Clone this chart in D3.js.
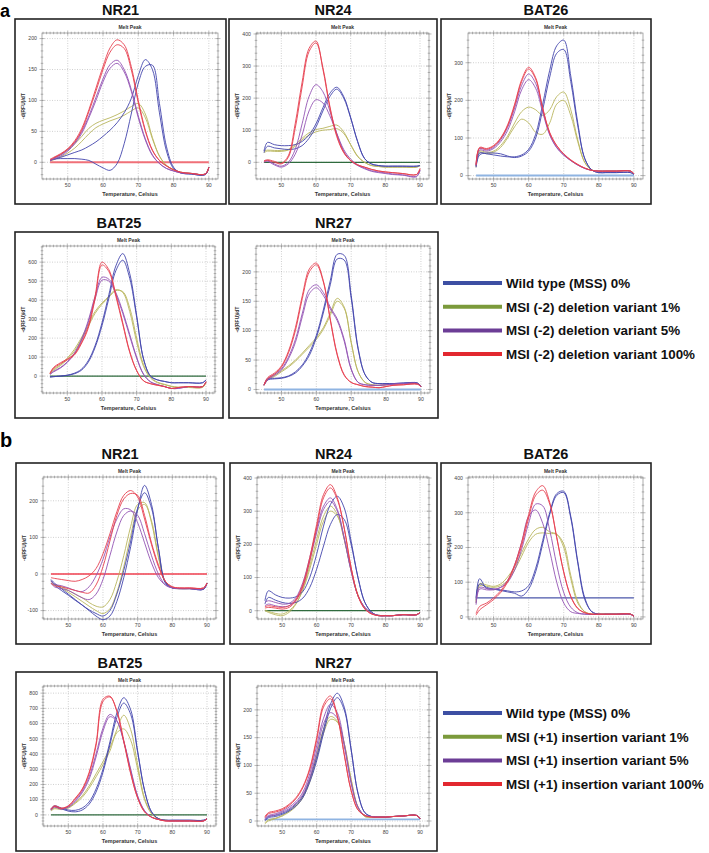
<!DOCTYPE html>
<html><head><meta charset="utf-8">
<script src="https://cdn.jsdelivr.net/npm/d3@7"></script>
<style>body{margin:0;background:#fff}svg{display:block;font-family:"Liberation Sans",Arial,sans-serif}</style>
</head><body><svg id="c" width="709" height="853"></svg>
<script>
const TEMPS = [45,46,48,50,52,54,56,58,60,62,64,66,68,70,72,74,76,78,80,82,85,89,90];
const X_TICKS = [50,60,70,80,90];
const SERIES_KEYS = ["wt","v1","v5","v100"];
const LEGEND_A = ["Wild type (MSS) 0%","MSI (-2) deletion variant 1%","MSI (-2) deletion variant 5%","MSI (-2) deletion variant 100%"];
const LEGEND_B = ["Wild type (MSS) 0%","MSI (+1) insertion variant 1%","MSI (+1) insertion variant 5%","MSI (+1) insertion variant 100%"];
const PANEL_TITLES_A = ["NR21","NR24","BAT26","BAT25","NR27"];
const PANEL_TITLES_B = ["NR21","NR24","BAT26","BAT25","NR27"];
const FLAT_A = [0,0,0,0,0];
const FLAT_B = [0,0,55,0,3];
const YTICKS_A = [[0,50,100,150,200],[0,100,200,300,400],[0,100,200,300],[0,100,200,300,400,500,600],[0,50,100,150,200]];
const YTICKS_B = [[-100,0,100,200],[0,100,200,300,400],[0,100,200,300,400],[0,100,200,300,400,500,600,700,800],[0,50,100,150,200]];
const YDOM_A = [[-27,209],[-52,403],[-9,379],[-89,685],[-6,244]];
const YDOM_B = [[-123,265],[-25,403],[-6,403],[-73,847],[-9,243]];

const A_NR21 = [
 ["wt",[3,5,8,12,16,20,26,33,42,52,64,80,103,140,166,150,80,18,-10,-17,-19,-20,-8]],
 ["wt",[3,5,6,6,6,5,3,-3,-9,-13,-2,30,78,128,155,157,95,25,-8,-17,-19,-20,-8]],
 ["v1",[3,6,12,20,30,42,55,63,68,72,77,83,90,95,78,40,10,-5,-12,-16,-18,-19,-8]],
 ["v1",[2,4,9,15,23,34,46,56,62,67,71,76,83,88,72,38,10,-5,-12,-16,-18,-19,-8]],
 ["v5",[3,6,12,20,32,50,75,105,135,158,165,150,118,75,38,12,-2,-10,-14,-17,-18,-19,-8]],
 ["v5",[2,5,10,18,30,47,72,100,130,152,160,146,115,72,36,11,-2,-10,-14,-17,-18,-19,-8]],
 ["v100",[5,8,14,22,35,55,85,120,155,185,198,190,155,100,52,20,3,-6,-12,-16,-18,-19,-8]],
 ["v100",[4,7,13,21,33,52,82,115,150,178,190,184,150,96,50,19,3,-6,-12,-16,-18,-19,-8]]
];
const A_NR24 = [
 ["wt",[35,62,55,52,52,55,65,85,120,170,215,234,205,140,65,12,-5,-10,-12,-12,-12,-12,-10]],
 ["wt",[30,50,45,42,40,42,52,75,110,160,205,228,200,138,65,12,-5,-10,-12,-12,-12,-12,-10]],
 ["v1",[35,38,37,37,40,55,75,92,102,106,112,116,95,55,18,0,-10,-13,-15,-15,-15,-15,-10]],
 ["v1",[30,35,34,34,38,50,70,85,95,100,102,105,90,55,20,0,-10,-13,-15,-15,-15,-15,-10]],
 ["v5",[3,5,-5,-12,0,40,120,205,242,220,160,90,35,5,-10,-20,-28,-32,-35,-38,-40,-45,-25]],
 ["v5",[0,3,-8,-15,-5,25,85,160,195,185,145,90,40,10,-8,-18,-26,-30,-33,-36,-39,-43,-25]],
 ["v100",[5,8,3,-3,20,120,250,355,378,290,170,80,30,5,-8,-15,-22,-27,-30,-32,-35,-38,-20]],
 ["v100",[3,6,0,-5,15,105,235,345,372,295,175,85,32,6,-8,-15,-22,-27,-30,-32,-35,-38,-20]]
];
const A_BAT26 = [
 ["wt",[25,60,58,55,52,50,50,55,70,110,190,280,345,360,265,140,45,15,8,8,8,8,3]],
 ["wt",[22,55,60,60,58,52,48,52,65,100,175,262,325,335,250,132,45,15,8,8,8,8,3]],
 ["v1",[25,65,62,65,80,105,140,170,182,175,160,175,210,222,175,95,35,15,12,12,12,12,5]],
 ["v1",[22,62,58,62,75,100,130,150,140,115,110,140,190,200,160,90,35,15,12,12,12,12,5]],
 ["v5",[28,72,68,75,95,128,180,240,270,245,175,110,75,55,40,28,19,14,12,12,12,12,5]],
 ["v5",[25,68,65,72,90,120,170,228,255,232,168,108,74,54,40,28,19,14,12,12,12,12,5]],
 ["v100",[30,75,72,80,100,135,190,255,288,260,180,115,80,58,42,30,20,14,12,12,12,12,5]],
 ["v100",[28,73,70,78,98,132,186,250,283,256,178,113,79,57,41,29,20,14,12,12,12,12,5]]
];
const A_BAT25 = [
 ["wt",[-5,-3,0,5,15,35,80,160,280,430,580,645,540,320,90,0,-20,-28,-35,-35,-35,-35,-20]],
 ["wt",[-5,-3,0,4,12,30,72,150,265,410,555,610,515,310,88,0,-20,-28,-35,-35,-35,-35,-20]],
 ["v1",[15,35,60,95,140,200,270,340,385,420,455,440,340,180,50,-10,-35,-45,-55,-60,-60,-60,-35]],
 ["v1",[12,30,55,88,130,190,260,330,378,415,450,445,360,200,60,-5,-32,-43,-53,-58,-58,-58,-35]],
 ["v5",[10,25,45,75,120,190,290,420,520,510,440,340,220,100,10,-30,-45,-55,-65,-65,-55,-55,-30]],
 ["v5",[8,22,42,72,115,182,280,405,505,500,430,330,210,95,8,-30,-45,-55,-65,-65,-55,-55,-30]],
 ["v100",[15,45,70,90,115,175,260,420,600,560,430,280,130,30,-25,-40,-48,-55,-65,-60,-55,-55,-30]],
 ["v100",[12,40,65,85,110,168,250,405,585,550,420,272,125,28,-25,-40,-48,-55,-65,-60,-55,-55,-30]]
];
const A_NR27 = [
 ["wt",[8,18,19,20,23,30,42,62,92,135,185,230,228,160,70,25,12,10,10,10,11,11,5]],
 ["wt",[7,16,18,19,22,28,40,58,88,130,178,222,220,155,68,25,12,10,10,10,11,11,5]],
 ["v1",[8,18,24,32,40,50,62,75,88,105,130,155,140,80,30,12,8,7,8,9,10,10,5]],
 ["v1",[7,16,22,30,38,48,60,72,85,102,126,150,138,80,30,12,8,7,8,9,10,10,5]],
 ["v5",[8,18,26,35,55,85,130,170,178,165,140,120,85,35,12,8,7,7,8,9,10,10,5]],
 ["v5",[7,16,24,33,52,80,124,163,173,160,137,117,82,34,12,8,7,7,8,9,10,10,5]],
 ["v100",[8,20,28,40,65,105,160,205,215,185,120,60,25,12,8,5,4,3,5,7,8,9,5]],
 ["v100",[7,18,26,38,62,100,155,200,212,183,118,58,24,12,8,5,4,3,5,7,8,9,5]]
];
const B_NR21 = [
 ["wt",[-15,-25,-40,-55,-70,-85,-100,-115,-125,-115,-75,-10,75,175,242,190,70,-25,-38,-40,-40,-42,-25]],
 ["wt",[-18,-30,-45,-58,-72,-85,-98,-108,-115,-100,-55,10,90,180,222,180,70,-22,-38,-40,-40,-42,-25]],
 ["v1",[-20,-28,-35,-45,-55,-65,-78,-88,-90,-70,-20,50,130,190,195,140,45,-22,-38,-40,-40,-40,-25]],
 ["v1",[-25,-30,-38,-50,-62,-75,-88,-100,-108,-95,-50,20,105,175,190,145,50,-22,-38,-40,-40,-40,-25]],
 ["v5",[-20,-28,-32,-38,-45,-48,-35,-5,40,100,150,178,175,140,85,30,-10,-30,-38,-40,-40,-40,-25]],
 ["v5",[-25,-35,-40,-45,-55,-65,-70,-55,-15,50,115,160,172,160,110,50,0,-30,-38,-40,-40,-40,-25]],
 ["v100",[-10,-12,-15,-18,-20,-15,-5,15,55,110,170,215,228,210,150,80,20,-20,-35,-38,-38,-38,-25]],
 ["v100",[-25,-32,-35,-40,-45,-50,-52,-30,20,90,160,205,220,215,160,85,25,-20,-35,-38,-38,-38,-25]]
];
const B_NR24 = [
 ["wt",[30,60,48,40,38,42,58,100,170,255,320,345,310,210,100,25,-5,-15,-15,-15,-12,-12,-5]],
 ["wt",[20,40,32,25,22,25,38,70,125,195,260,290,275,200,100,25,-5,-15,-15,-15,-12,-12,-5]],
 ["v1",[0,-5,-12,-15,-5,20,65,135,215,285,315,290,215,120,45,8,-8,-14,-15,-15,-12,-12,-5]],
 ["v1",[2,-2,-8,-10,0,22,62,125,200,270,300,285,215,125,48,8,-8,-14,-15,-15,-12,-12,-5]],
 ["v5",[25,30,25,20,22,40,85,160,245,315,340,305,220,120,45,10,-8,-14,-15,-15,-12,-12,-5]],
 ["v5",[15,20,15,12,15,32,75,150,235,305,330,300,218,120,45,10,-8,-14,-15,-15,-12,-12,-5]],
 ["v100",[12,15,12,10,15,35,80,160,260,350,380,340,250,130,45,5,-10,-15,-15,-15,-12,-12,-5]],
 ["v100",[8,10,8,5,10,30,72,150,250,340,370,335,248,130,45,5,-10,-15,-15,-15,-12,-12,-5]]
];
const B_BAT26 = [
 ["wt",[55,110,82,80,78,75,72,75,90,140,220,300,355,362,290,160,55,15,8,8,8,8,2]],
 ["wt",[50,95,85,80,76,72,68,60,80,130,210,295,350,358,285,155,50,15,8,8,8,8,2]],
 ["v1",[45,95,92,88,95,115,145,185,225,252,258,245,238,200,110,40,15,8,8,8,8,8,2]],
 ["v1",[40,90,88,85,90,105,135,175,215,238,242,240,238,210,120,45,15,8,8,8,8,8,2]],
 ["v5",[40,85,82,80,85,100,135,195,270,325,320,250,150,70,28,12,8,7,7,7,7,7,2]],
 ["v5",[35,80,78,78,85,105,150,215,290,308,270,190,100,40,15,10,8,7,7,7,7,7,2]],
 ["v100",[10,30,40,55,75,105,150,215,295,360,378,330,230,130,60,25,12,8,8,8,8,8,2]],
 ["v100",[5,20,35,50,70,100,145,205,285,350,365,325,228,128,58,24,12,8,8,8,8,8,2]]
];
const B_BAT25 = [
 ["wt",[40,60,45,32,30,45,85,170,300,480,670,770,690,420,160,20,-25,-35,-35,-35,-35,-35,-25]],
 ["wt",[35,55,40,25,20,32,70,150,280,460,640,735,660,410,160,20,-25,-35,-35,-35,-35,-35,-25]],
 ["v1",[30,45,40,50,80,125,190,270,350,440,560,655,560,330,110,10,-25,-35,-38,-38,-38,-38,-25]],
 ["v1",[25,40,35,45,75,115,175,250,330,420,540,565,490,300,100,8,-25,-35,-38,-38,-38,-38,-25]],
 ["v5",[35,55,40,55,95,155,250,400,570,660,620,480,290,120,25,-15,-30,-38,-40,-40,-40,-40,-25]],
 ["v5",[30,50,38,50,88,145,235,380,550,645,615,485,300,125,28,-15,-30,-38,-40,-40,-40,-40,-25]],
 ["v100",[40,60,45,60,110,170,280,470,760,780,680,480,270,110,20,-15,-30,-40,-40,-40,-40,-40,-25]],
 ["v100",[35,55,42,58,105,165,270,455,745,775,685,490,275,112,20,-15,-30,-40,-40,-40,-40,-40,-25]]
];
const B_NR27 = [
 ["wt",[2,8,10,14,20,30,45,75,115,165,210,230,205,130,50,15,8,7,7,8,9,10,4]],
 ["wt",[0,6,8,12,18,27,42,70,108,158,202,222,200,128,50,15,8,7,7,8,9,10,4]],
 ["v1",[-3,2,5,10,18,28,45,75,120,165,188,180,140,75,25,8,7,7,7,8,9,10,4]],
 ["v1",[-5,0,4,9,16,26,42,70,112,158,183,178,140,75,25,8,7,7,7,8,9,10,4]],
 ["v5",[5,10,13,18,25,35,52,85,135,185,210,195,140,70,25,10,8,7,7,8,9,10,4]],
 ["v5",[3,8,11,16,22,32,48,78,125,175,195,185,135,68,25,10,8,7,7,8,9,10,4]],
 ["v100",[8,15,18,22,30,42,62,95,150,210,225,190,120,55,20,10,7,7,7,8,9,10,4]],
 ["v100",[6,13,16,20,28,40,60,92,145,205,220,188,120,55,20,10,7,7,7,8,9,10,4]]
];

// ---- styling / layout ----
const CURVE_COLOR = {wt:"#4345ad", v1:"#b9b65e", v5:"#9353b3", v100:"#e6404f"};
const DRAW_ORDER = ["v1","wt","v5","v100"];
const LEGEND_COLOR = {wt:"#3d4fa3", v1:"#7b9a3b", v5:"#6c3d96", v100:"#e2282f"};
const FLAT_STYLE_A = [["#f07078",2],["#2f6b3e",1.2],["#8fb4e2",2],["#2f6b3e",1.2],["#8fb4e2",2]];
const FLAT_STYLE_B = [["#f04050",1.6],["#2f6b3e",1.2],["#4a56aa",1.2],["#2f6b3e",1.2],["#8fb4e2",1.6]];
const BOXES_A = [[15,19,226,204],[229,19,437,204],[441,19,651,204],[15,232,223,418],[229,232,438,418]];
const BOXES_B = [[16,463,224,644],[230,463,437,644],[441,463,651,644],[16,672,224,851],[230,672,437,851]];
const X_DOMAIN = [42.7,92.6];

const svg = d3.select("#c");
const line = d3.line().curve(d3.curveCatmullRom.alpha(0.5));

function panel(box, title, curves, yTicks, yDom, flatV, flatStyle) {
  const [x0,y0,x1,y1] = box;
  const g = svg.append("g");
  g.append("text").attr("x",(x0+x1)/2).attr("y",y0-4).attr("text-anchor","middle")
   .attr("font-size",14.5).attr("font-weight","bold").attr("fill","#111").text(title);
  g.append("rect").attr("x",x0).attr("y",y0).attr("width",x1-x0).attr("height",y1-y0)
   .attr("fill","#fff").attr("stroke","#222").attr("stroke-width",1.6);
  const L = x0+27, R = x1-8, T = y0+14, B = y1-25;
  const xs = d3.scaleLinear().domain(X_DOMAIN).range([L,R]);
  const ys = d3.scaleLinear().domain(yDom).range([B,T]);
  g.append("text").attr("x",(L+R)/2).attr("y",T-4.5).attr("text-anchor","middle")
   .attr("font-size",5).attr("font-weight","bold").attr("fill","#333").text("Melt Peak");
  const grid = g.append("g").attr("stroke","#b0b0b0").attr("stroke-width",0.6).attr("stroke-dasharray","1,1.5");
  X_TICKS.forEach(t=>grid.append("line").attr("x1",xs(t)).attr("x2",xs(t)).attr("y1",T).attr("y2",B));
  yTicks.forEach(t=>grid.append("line").attr("x1",L).attr("x2",R).attr("y1",ys(t)).attr("y2",ys(t)));
  g.append("rect").attr("x",L).attr("y",T).attr("width",R-L).attr("height",B-T)
   .attr("fill","none").attr("stroke","#8a8a8a").attr("stroke-width",0.7);
  const tk = g.append("g").attr("stroke","#777").attr("stroke-width",0.5);
  d3.range(43,93,1).forEach(t=>{
    const len = (t%10===0)?2.5:1.3;
    tk.append("line").attr("x1",xs(t)).attr("x2",xs(t)).attr("y1",B-len).attr("y2",B+len);
    tk.append("line").attr("x1",xs(t)).attr("x2",xs(t)).attr("y1",T-len).attr("y2",T+len);
  });
  const step = yTicks[1]-yTicks[0];
  d3.range(Math.ceil(yDom[0]/(step/5))*(step/5), yDom[1], step/5).forEach(v=>{
    const major = Math.abs(v/step - Math.round(v/step))<1e-6;
    const len = major?2.5:1.3;
    tk.append("line").attr("x1",L-len).attr("x2",L+len).attr("y1",ys(v)).attr("y2",ys(v));
    tk.append("line").attr("x1",R-len).attr("x2",R+len).attr("y1",ys(v)).attr("y2",ys(v));
  });
  X_TICKS.forEach(t=>g.append("text").attr("x",xs(t)).attr("y",B+8).attr("text-anchor","middle")
    .attr("font-size",5.2).attr("fill","#444").text(t));
  yTicks.forEach(t=>g.append("text").attr("x",L-5).attr("y",ys(t)+1.8).attr("text-anchor","end")
    .attr("font-size",5.2).attr("fill","#444").text(t));
  g.append("text").attr("x",(L+R)/2).attr("y",B+17).attr("text-anchor","middle")
   .attr("font-size",5.5).attr("font-weight","bold").attr("fill","#333").text("Temperature, Celsius");
  g.append("text").attr("transform",`translate(${L-17},${(T+B)/2}) rotate(-90)`).attr("text-anchor","middle")
   .attr("font-size",5).attr("font-weight","bold").attr("fill","#333").text("-d(RFU)/dT");
  const cg = g.append("g").attr("fill","none");
  cg.append("path").attr("d",line([[45,flatV],[90,flatV]].map(d=>[xs(d[0]),ys(d[1])])))
    .attr("stroke",flatStyle[0]).attr("stroke-width",flatStyle[1]);
  DRAW_ORDER.forEach(k=>{
    curves.filter(c=>c[0]===k).forEach(c=>{
      cg.append("path").attr("d",line(TEMPS.map((t,i)=>[xs(t),ys(c[1][i])])))
        .attr("stroke",CURVE_COLOR[k]).attr("stroke-width",0.9);
    });
  });
}

const A_DATA = [A_NR21,A_NR24,A_BAT26,A_BAT25,A_NR27];
const B_DATA = [B_NR21,B_NR24,B_BAT26,B_BAT25,B_NR27];
A_DATA.forEach((d,i)=>panel(BOXES_A[i],PANEL_TITLES_A[i],d,YTICKS_A[i],YDOM_A[i],FLAT_A[i],FLAT_STYLE_A[i]));
B_DATA.forEach((d,i)=>panel(BOXES_B[i],PANEL_TITLES_B[i],d,YTICKS_B[i],YDOM_B[i],FLAT_B[i],FLAT_STYLE_B[i]));

svg.append("text").attr("x",0).attr("y",16.5).attr("font-size",18).attr("font-weight","bold").text("a");
svg.append("text").attr("x",0).attr("y",447).attr("font-size",20).attr("font-weight","bold").text("b");

function legend(y0, labels){
  const ys = d3.scaleOrdinal().domain(SERIES_KEYS).range([0,1,2,3].map(i=>y0+i*23.7));
  SERIES_KEYS.forEach((k,i)=>{
    svg.append("line").attr("x1",443).attr("x2",502).attr("y1",ys(k)).attr("y2",ys(k))
      .attr("stroke",LEGEND_COLOR[k]).attr("stroke-width",4);
    svg.append("text").attr("x",506).attr("y",ys(k)+4.8).attr("font-size",13.4).attr("font-weight","bold")
      .attr("fill","#111").text(labels[i]);
  });
}
legend(283, LEGEND_A);
legend(713, LEGEND_B);
</script></body></html>
